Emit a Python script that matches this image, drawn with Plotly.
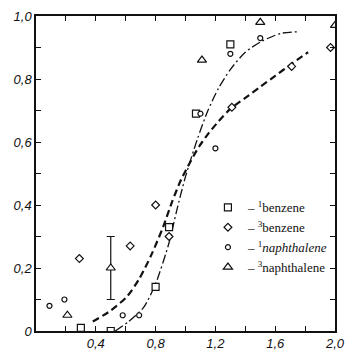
import plotly.graph_objects as go

# data
b1_x = [0.30, 0.50, 0.80, 0.89, 1.07, 1.30]
b1_y = [0.01, 0.00, 0.14, 0.33, 0.69, 0.91]
b3_x = [0.29, 0.63, 0.80, 0.89, 1.31, 1.71, 1.97]
b3_y = [0.23, 0.27, 0.40, 0.30, 0.71, 0.84, 0.90]
n1_x = [0.09, 0.19, 0.58, 0.69, 1.10, 1.20, 1.30, 1.50]
n1_y = [0.08, 0.10, 0.05, 0.05, 0.69, 0.58, 0.88, 0.93]
n3_x = [0.21, 1.11, 1.50, 2.00]
n3_y = [0.05, 0.86, 0.98, 0.97]
n3e_x = [0.50]
n3e_y = [0.20]
n3e_err = [0.10]

dash_x = [0.38, 0.50, 0.61, 0.69, 0.77, 0.85, 0.91, 0.97, 1.03, 1.09, 1.15, 1.22, 1.30, 1.40, 1.50, 1.60, 1.70, 1.82]
dash_y = [0.03, 0.065, 0.11, 0.165, 0.24, 0.33, 0.41, 0.48, 0.535, 0.585, 0.625, 0.665, 0.705, 0.74, 0.775, 0.81, 0.845, 0.885]
dd_x = [0.53, 0.62, 0.72, 0.80, 0.89, 0.94, 1.00, 1.08, 1.15, 1.22, 1.30, 1.40, 1.51, 1.64, 1.75]
dd_y = [0.00, 0.03, 0.075, 0.15, 0.28, 0.38, 0.49, 0.61, 0.70, 0.77, 0.83, 0.885, 0.92, 0.945, 0.95]

x_ticks = [0.2, 0.4, 0.6, 0.8, 1.0, 1.2, 1.4, 1.6, 1.8, 2.0]
x_text = ["", "0,4", "", "0,8", "", "1,2", "", "1,6", "", "2,0"]
y_ticks = [0, 0.1, 0.2, 0.3, 0.4, 0.5, 0.6, 0.7, 0.8, 0.9, 1.0]
y_text = ["0", "", "0,2", "", "0,4", "", "0,6", "", "0,8", "", "1,0"]

ink = "#111111"
fig = go.Figure()

fig.add_trace(go.Scatter(x=dash_x, y=dash_y, mode="lines", showlegend=False,
                         line=dict(color=ink, width=2.2, dash="7px,4px", shape="spline", smoothing=0.7)))
fig.add_trace(go.Scatter(x=dd_x, y=dd_y, mode="lines", showlegend=False,
                         line=dict(color=ink, width=1.3, dash="9px,3px,2px,3px", shape="spline", smoothing=0.7)))

mk = dict(color="white", line=dict(color=ink, width=1.2))
fig.add_trace(go.Scatter(x=b1_x, y=b1_y, mode="markers", name="– <sup>1</sup>benzene",
                         marker=dict(symbol="square", size=7, **mk)))
fig.add_trace(go.Scatter(x=b3_x, y=b3_y, mode="markers", name="– <sup>3</sup>benzene",
                         marker=dict(symbol="diamond", size=6, **mk)))
fig.add_trace(go.Scatter(x=n1_x, y=n1_y, mode="markers", name="– <sup>1</sup><i>naphthalene</i>",
                         marker=dict(symbol="circle", size=5, **mk)))
fig.add_trace(go.Scatter(x=n3_x, y=n3_y, mode="markers", name="– <sup>3</sup>naphthalene",
                         marker=dict(symbol="triangle-up", size=8, **mk)))
fig.add_trace(go.Scatter(x=n3e_x, y=n3e_y, mode="markers", showlegend=False,
                         error_y=dict(type="data", array=n3e_err, color=ink, thickness=1.2, width=4),
                         marker=dict(symbol="triangle-up", size=8, **mk)))

axis_common = dict(showline=True, linecolor=ink, linewidth=1.5, mirror="ticks",
                   ticks="inside", ticklen=5, tickwidth=1.2, tickcolor=ink,
                   showgrid=False, zeroline=False, ticklabeloverflow="allow",
                   tickfont=dict(family="Liberation Sans", size=13, color=ink, style="italic"))

fig.update_xaxes(range=[0, 2.0], tickmode="array", tickvals=x_ticks, ticktext=x_text,
                 tickangle=0, **axis_common)
fig.update_yaxes(range=[0, 1.0], tickmode="array", tickvals=y_ticks, ticktext=y_text,
                 **axis_common)

fig.update_layout(
    width=351, height=358,
    margin=dict(l=36, r=6, t=16, b=27),
    paper_bgcolor="white", plot_bgcolor="white",
    font=dict(family="Liberation Serif", color=ink),
    legend=dict(x=0.575, y=0.44, xanchor="left", yanchor="top",
                bgcolor="rgba(0,0,0,0)", font=dict(family="Liberation Serif", size=13, color=ink),
                itemwidth=30, tracegroupgap=0),
)

fig.write_html("out.html")
